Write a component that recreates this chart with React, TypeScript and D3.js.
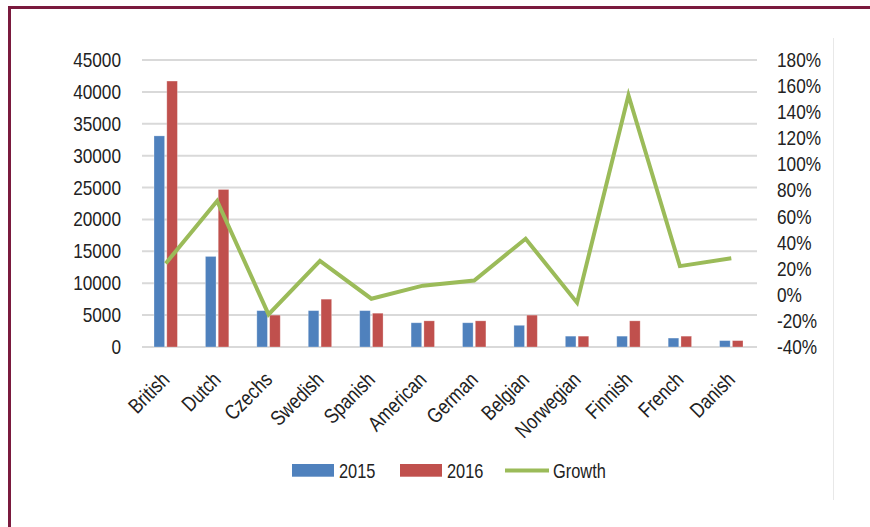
import React from "react";
import * as d3 from "d3";

const categories = ["British", "Dutch", "Czechs", "Swedish", "Spanish", "American", "German", "Belgian", "Norwegian", "Finnish", "French", "Danish"];
const values2015 = [33100, 14200, 5700, 5700, 5700, 3800, 3800, 3400, 1700, 1700, 1400, 1000];
const values2016 = [41700, 24700, 5000, 7500, 5300, 4100, 4100, 5000, 1700, 4100, 1700, 1000];
const growth = [24, 72, -15, 26, -3, 7, 11, 43, -6, 153, 22, 28];
const leftTicks = [0, 5000, 10000, 15000, 20000, 25000, 30000, 35000, 40000, 45000];
const rightTicks = [-40, -20, 0, 20, 40, 60, 80, 100, 120, 140, 160, 180];
const legendItems = ["2015", "2016", "Growth"];

const BLUE = "#4f81bd";
const RED = "#c0504d";
const GREEN = "#9bbb59";
const FONT = "'Liberation Sans', Arial, sans-serif";
const SX = 0.82;

export default function App() {
  const W = 870, H = 527;
  const x = d3.scaleBand<string>().domain(categories).range([140, 757]);
  const yL = d3.scaleLinear().domain([0, 45000]).range([347, 60]);
  const yR = d3.scaleLinear().domain([-40, 180]).range([347, 60]);
  const barW = 10.6, gap = 2.2;
  const line = d3.line<number>()
    .x((_, i) => (x(categories[i]) as number) + x.bandwidth() / 2)
    .y((d) => yR(d));

  const legendX = [292, 400, 505];
  return (
    <svg width={W} height={H} style={{ position: "absolute", left: 0, top: 0, background: "#fff" }}>
      <rect x={0} y={0} width={W} height={H} fill="#fff" />
      {/* frame */}
      <line x1={8} x2={W} y1={7.5} y2={7.5} stroke="#7a1a3e" strokeWidth={3} />
      <line x1={9.5} x2={9.5} y1={6} y2={H} stroke="#7a1a3e" strokeWidth={3} />
      <line x1={833.5} x2={833.5} y1={38} y2={500} stroke="#e8e8e8" strokeWidth={1} />
      {/* gridlines */}
      {leftTicks.map((t) => (
        <line key={t} x1={142} x2={757} y1={yL(t)} y2={yL(t)} stroke="#d9d9d9" strokeWidth={2} />
      ))}
      {/* left labels */}
      {leftTicks.map((t) => (
        <text key={t} transform={`translate(121,${yL(t) + 7}) scale(${SX},1)`} textAnchor="end" fontSize={21} fontFamily={FONT} fill="#222">
          {t}
        </text>
      ))}
      {/* right labels */}
      {rightTicks.map((t) => (
        <text key={t} transform={`translate(777,${yR(t) + 7}) scale(${SX},1)`} textAnchor="start" fontSize={21} fontFamily={FONT} fill="#222">
          {t + "%"}
        </text>
      ))}
      {/* bars */}
      {categories.map((c, i) => {
        const cx = (x(c) as number) + x.bandwidth() / 2;
        return (
          <g key={c}>
            <rect x={cx - gap / 2 - barW} y={yL(values2015[i])} width={barW} height={yL(0) - yL(values2015[i])} fill={BLUE} stroke="#ffffff" strokeOpacity={0.35} strokeWidth={0.8} />
            <rect x={cx + gap / 2} y={yL(values2016[i])} width={barW} height={yL(0) - yL(values2016[i])} fill={RED} stroke="#ffffff" strokeOpacity={0.35} strokeWidth={0.8} />
          </g>
        );
      })}
      {/* growth line */}
      <path d={line(growth) || ""} fill="none" stroke={GREEN} strokeWidth={4} strokeLinejoin="miter" />
      {/* x labels */}
      {categories.map((c) => {
        const cx = (x(c) as number) + x.bandwidth() / 2;
        return (
          <text key={c} transform={`translate(${cx + 5},381) rotate(-45) scale(${SX},1)`} textAnchor="end" fontSize={21} fontFamily={FONT} fill="#222">
            {c}
          </text>
        );
      })}
      {/* legend */}
      <rect x={legendX[0]} y={464} width={42} height={12.7} fill={BLUE} />
      <text transform={`translate(${legendX[0] + 47},478) scale(${SX},1)`} fontSize={20} fontFamily={FONT} fill="#222">{legendItems[0]}</text>
      <rect x={legendX[1]} y={464} width={42} height={12.7} fill={RED} />
      <text transform={`translate(${legendX[1] + 47},478) scale(${SX},1)`} fontSize={20} fontFamily={FONT} fill="#222">{legendItems[1]}</text>
      <line x1={legendX[2]} x2={legendX[2] + 44} y1={470.5} y2={470.5} stroke={GREEN} strokeWidth={4} />
      <text transform={`translate(${legendX[2] + 48},478) scale(${SX},1)`} fontSize={20} fontFamily={FONT} fill="#222">{legendItems[2]}</text>
    </svg>
  );
}
